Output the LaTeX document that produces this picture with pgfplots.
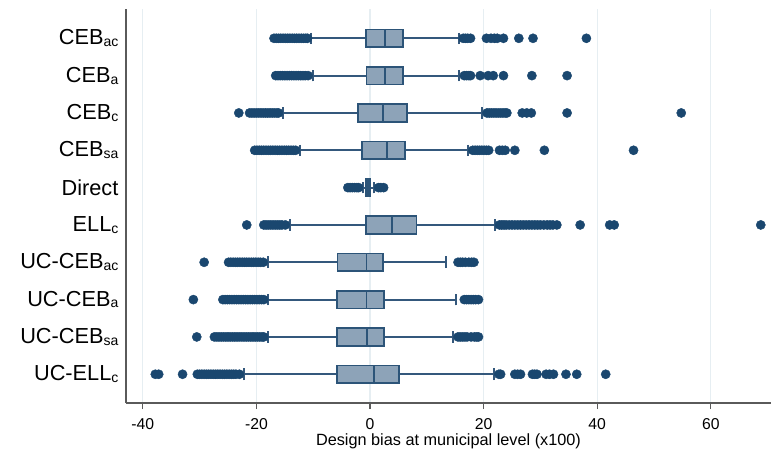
\documentclass[border=0pt]{standalone}
\usepackage{fontspec}
\setmainfont{Liberation Sans}
\usepackage{pgfplots}
\pgfplotsset{compat=1.18}
\usepgfplotslibrary{statistics}
\definecolor{dotc}{RGB}{26,71,111}
\definecolor{boxfill}{RGB}{141,163,184}
\definecolor{boxline}{RGB}{44,84,120}
\definecolor{whisk}{RGB}{52,88,124}
\definecolor{gridc}{RGB}{230,238,242}
\definecolor{axc}{RGB}{90,90,90}
\newcommand{\subs}[1]{\raisebox{-1.3pt}{\fontsize{10.5}{12}\selectfont #1}}
\pgfplotsset{
  sbox/.style={boxplot prepared={#1},
    fill=boxfill, draw=boxline, line width=1.2pt,
    mark=*, mark options={fill=dotc, draw=dotc, line width=0.3pt},
    boxplot/box extend=0.47, boxplot/whisker extend=0.31,
    boxplot/every whisker/.style={draw=whisk, line width=1.5pt},
    boxplot/every median/.style={draw=boxline, line width=1.3pt},
    boxplot/every box/.style={fill=boxfill, draw=boxline, line width=1.3pt}},
}
\begin{document}
\begin{tikzpicture}
\path[use as bounding box] (-94.5pt,-38.25pt) rectangle (483.75pt,302.25pt);
\begin{axis}[at={(0pt,0pt)}, anchor=south west, scale only axis,
  width=483.75pt, height=295.5pt,
  xmin=-42.96, xmax=70.6, ymin=0.23, ymax=10.785,
  axis x line*=bottom, axis y line*=left,
  axis line style={draw=axc, line width=0.8pt, -},
  mark size=3.45pt,
  xtick={-40,-20,0,20,40,60}, xticklabels={-40,-20,0,20,40,60},
  xmajorgrids, grid style={draw=gridc, line width=0.8pt},
  ytick={1,2,3,4,5,6,7,8,9,10},
  yticklabels={UC-ELL\subs{c}, UC-CEB\subs{sa}, UC-CEB\subs{a}, UC-CEB\subs{ac}, ELL\subs{c}, Direct, CEB\subs{sa}, CEB\subs{c}, CEB\subs{a}, CEB\subs{ac}},
  yticklabel style={font=\fontsize{16.3}{18}\selectfont, anchor=east, inner sep=0pt, xshift=-1pt},
  xticklabel style={font=\fontsize{11.8}{13}\selectfont, yshift=-3.5pt},
  xlabel={Design bias at municipal level (x100)},
  xlabel style={font=\fontsize{12.2}{14}\selectfont, at={(rel axis cs:0.5,0)}, anchor=center, yshift=-29pt},
  tick align=outside, major tick length=4.5pt,
  x tick style={draw=axc, line width=0.8pt},
  y tick style={draw=none},
  boxplot/draw direction=x,
]
% CEBac
\addplot[sbox={draw position=10, lower whisker=-10.3, lower quartile=-0.76, median=2.64, upper quartile=5.81, upper whisker=15.7}]
coordinates {(0,-16.9) (0,-16.5) (0,-16.1) (0,-15.7) (0,-15.3) (0,-14.9) (0,-14.5) (0,-14.1) (0,-13.7) (0,-13.3) (0,-12.9) (0,-12.5) (0,-12.1) (0,-11.7) (0,-11.3) (0,-11.0)
 (0,16.4) (0,16.8) (0,17.2) (0,17.7) (0,20.5) (0,21.3) (0,21.9) (0,22.4) (0,23.5) (0,26.2) (0,28.7) (0,38.1)};
% CEBa
\addplot[sbox={draw position=9, lower whisker=-10.1, lower quartile=-0.6, median=2.64, upper quartile=5.81, upper whisker=15.7}]
coordinates {(0,-16.6) (0,-16.2) (0,-15.8) (0,-15.4) (0,-15.0) (0,-14.6) (0,-14.2) (0,-13.8) (0,-13.4) (0,-13.0) (0,-12.6) (0,-12.2) (0,-11.8) (0,-11.4) (0,-10.9)
 (0,16.6) (0,17.0) (0,17.4) (0,17.7) (0,19.4) (0,20.8) (0,21.7) (0,23.5) (0,28.5) (0,34.7)};
% CEBc
\addplot[sbox={draw position=8, lower whisker=-15.3, lower quartile=-2.17, median=2.35, upper quartile=6.57, upper whisker=19.8}]
coordinates {(0,-23.1) (0,-21.2) (0,-20.8) (0,-20.4) (0,-20.0) (0,-19.6) (0,-19.2) (0,-18.8) (0,-18.4) (0,-18.0) (0,-17.6) (0,-17.2) (0,-16.8) (0,-16.4) (0,-16.1)
 (0,20.6) (0,21.0) (0,21.4) (0,21.8) (0,22.2) (0,22.6) (0,23.0) (0,23.4) (0,23.8) (0,24.1) (0,26.8) (0,27.6) (0,28.4) (0,34.7) (0,54.8)};
% CEBsa
\addplot[sbox={draw position=7, lower whisker=-12.3, lower quartile=-1.35, median=2.93, upper quartile=6.1, upper whisker=17.3}]
coordinates {(0,-20.3) (0,-19.9) (0,-19.5) (0,-19.1) (0,-18.7) (0,-18.3) (0,-17.9) (0,-17.5) (0,-17.1) (0,-16.7) (0,-16.3) (0,-15.9) (0,-15.5) (0,-15.1) (0,-14.7) (0,-14.3) (0,-13.9) (0,-13.5) (0,-13.1)
 (0,18.1) (0,18.5) (0,18.9) (0,19.3) (0,19.7) (0,20.1) (0,20.5) (0,20.9) (0,22.8) (0,23.3) (0,23.8) (0,25.5) (0,30.7) (0,46.4)};
% Direct
\addplot[sbox={draw position=6, lower whisker=-1.3, lower quartile=-0.76, median=-0.35, upper quartile=0.05, upper whisker=0.7}]
coordinates {(0,-3.9) (0,-3.5) (0,-3.1) (0,-2.7) (0,-2.3) (0,-2.0) (0,1.5) (0,1.9) (0,2.4)};
% ELLc
\addplot[sbox={draw position=5, lower whisker=-14.1, lower quartile=-0.76, median=3.93, upper quartile=8.2, upper whisker=22.0}]
coordinates {(0,-21.7) (0,-18.7) (0,-18.3) (0,-17.9) (0,-17.5) (0,-17.1) (0,-16.7) (0,-16.3) (0,-15.9) (0,-15.5) (0,-14.9)
 (0,22.8) (0,23.2) (0,23.6) (0,24.0) (0,24.5) (0,25.0) (0,25.5) (0,26.0) (0,26.5) (0,27.0) (0,27.5) (0,28.0) (0,28.5) (0,29.0) (0,29.5) (0,30.0) (0,30.6) (0,31.2) (0,31.7) (0,32.2) (0,32.9) (0,37.0) (0,42.2) (0,43.0) (0,68.8)};
% UC-CEBac
\addplot[sbox={draw position=4, lower whisker=-17.9, lower quartile=-5.7, median=-0.6, upper quartile=2.35, upper whisker=13.4}]
coordinates {(0,-29.2) (0,-24.9) (0,-24.5) (0,-24.1) (0,-23.7) (0,-23.3) (0,-22.9) (0,-22.5) (0,-22.1) (0,-21.7) (0,-21.3) (0,-20.9) (0,-20.5) (0,-20.1) (0,-19.7) (0,-19.3) (0,-18.8)
 (0,15.5) (0,15.9) (0,16.3) (0,16.8) (0,17.4) (0,17.9) (0,18.3)};
% UC-CEBa
\addplot[sbox={draw position=3, lower whisker=-17.9, lower quartile=-5.75, median=-0.6, upper quartile=2.46, upper whisker=15.1}]
coordinates {(0,-31.1) (0,-25.9) (0,-25.5) (0,-25.1) (0,-24.7) (0,-24.3) (0,-23.9) (0,-23.5) (0,-23.1) (0,-22.7) (0,-22.3) (0,-21.9) (0,-21.5) (0,-21.1) (0,-20.7) (0,-20.3) (0,-19.9) (0,-19.5) (0,-19.1) (0,-18.7)
 (0,16.6) (0,17.0) (0,17.4) (0,17.8) (0,18.2) (0,18.6) (0,19.1)};
% UC-CEBsa
\addplot[sbox={draw position=2, lower whisker=-17.9, lower quartile=-5.75, median=-0.47, upper quartile=2.46, upper whisker=14.7}]
coordinates {(0,-30.5) (0,-27.4) (0,-27.0) (0,-26.6) (0,-26.2) (0,-25.8) (0,-25.4) (0,-25.0) (0,-24.6) (0,-24.2) (0,-23.8) (0,-23.4) (0,-23.0) (0,-22.6) (0,-22.2) (0,-21.8) (0,-21.4) (0,-21.0) (0,-20.6) (0,-20.2) (0,-19.8) (0,-19.4) (0,-19.0) (0,-18.7)
 (0,15.5) (0,15.9) (0,16.3) (0,16.7) (0,17.1) (0,17.8) (0,18.4) (0,18.8) (0,19.1)};
% UC-ELLc
\addplot[sbox={draw position=1, lower whisker=-22.2, lower quartile=-5.87, median=0.65, upper quartile=5.16, upper whisker=21.9}]
coordinates {(0,-37.8) (0,-37.2) (0,-33.0) (0,-30.4) (0,-30.0) (0,-29.6) (0,-29.2) (0,-28.8) (0,-28.4) (0,-28.0) (0,-27.6) (0,-27.2) (0,-26.8) (0,-26.4) (0,-26.0) (0,-25.6) (0,-25.2) (0,-24.8) (0,-24.4) (0,-24.0) (0,-23.6) (0,-23.0)
 (0,22.7) (0,23.0) (0,25.5) (0,26.0) (0,26.5) (0,28.6) (0,29.0) (0,29.4) (0,31.0) (0,31.6) (0,32.3) (0,34.5) (0,36.4) (0,41.5)};
\end{axis}
\end{tikzpicture}
\end{document}
